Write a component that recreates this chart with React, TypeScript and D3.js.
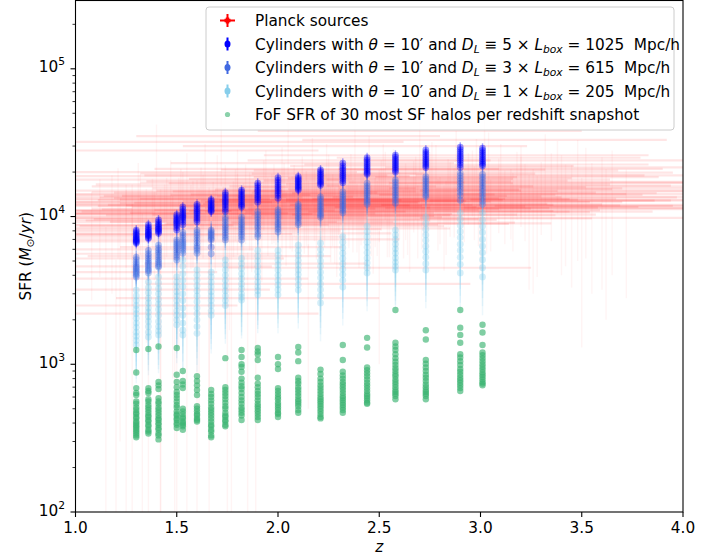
import React from 'react';
import * as d3 from 'd3';

// Redshift snapshots
const snapshotZ = [1.30, 1.36, 1.41, 1.50, 1.53, 1.60, 1.67, 1.74, 1.82, 1.90, 2.00, 2.10, 2.21, 2.32, 2.44, 2.58, 2.73, 2.90, 3.01];

// Cylinders D_L = 5 Lbox (1025 Mpc/h)
const cyl1025SFR: number[][] = [
  [8100, 7900, 7700, 7500, 7400, 7200, 7100, 7000, 6900, 6800, 6700, 6600],
  [8800, 8500, 8300, 8100, 7900, 7800, 7600, 7500, 7400, 7200, 7100],
  [9500, 9200, 8900, 8700, 8500, 8300, 8200, 8000, 7900, 7700],
  [10300, 10000, 9700, 9500, 9300, 9100, 8900, 8700, 8400, 8100],
  [11600, 11200, 10800, 10500, 10200, 10000, 9800, 9500, 9200, 8800],
  [12100, 11700, 11300, 11000, 10700, 10400, 10100, 9800, 9500, 9200],
  [13000, 12700, 12300, 12000, 11700, 11500, 11200, 11000, 10800],
  [14500, 14000, 13500, 13100, 12700, 12400, 12000, 11600, 11200, 10800],
  [15100, 14700, 14200, 13800, 13400, 13000, 12600, 12200, 11900, 11600],
  [16800, 16200, 15600, 15100, 14700, 14200, 13800, 13400, 13000, 12500],
  [18300, 17600, 17000, 16400, 15900, 15400, 14900, 14400, 13900, 13300],
  [18600, 18100, 17700, 17300, 16900, 16500, 16100, 15800, 15400, 15100],
  [20700, 20100, 19500, 19000, 18500, 18000, 17500, 17100, 16700, 16300],
  [23000, 22000, 21200, 20500, 19800, 19200, 18700, 18100, 17500, 16900],
  [25000, 24200, 23400, 22700, 22000, 21400, 20800, 20200, 19700, 19300],
  [26000, 25200, 24400, 23700, 23000, 22400, 21800, 21200, 20600, 20000],
  [28200, 27200, 26300, 25500, 24700, 24000, 23300, 22700, 22100, 21500],
  [29500, 28400, 27400, 26500, 25600, 24800, 24000, 23200, 22400, 21500],
  [29000, 28000, 27100, 26200, 25400, 24600, 23900, 23200, 22600, 22000],
];

// Cylinders D_L = 3 Lbox (615 Mpc/h)
const cyl615SFR: number[][] = [
  [5300, 5100, 4900, 4750, 4600, 4500, 4400, 4300, 4200, 4100, 4000, 3900],
  [5900, 5600, 5400, 5200, 5000, 4850, 4700, 4550, 4400, 4300, 4150],
  [6400, 6100, 5900, 5700, 5500, 5300, 5100, 4950, 4800, 4650, 4550],
  [6950, 6700, 6500, 6300, 6100, 5900, 5700, 5500, 5300, 5080],
  [7800, 7500, 7200, 6900, 6700, 6500, 6300, 6100, 5900, 5650],
  [8100, 7800, 7500, 7200, 6900, 6600, 6300, 6100, 5900, 5650],
  [8100, 7900, 7700, 7500, 7300, 7100, 6950, 6200, 5600],
  [9900, 9500, 9100, 8700, 8400, 8100, 7800, 7500, 7200, 6950],
  [9900, 9500, 9100, 8800, 8500, 8200, 7900, 7600, 7300, 6950],
  [10800, 10300, 9900, 9500, 9100, 8700, 8400, 8000, 7600, 7300],
  [11100, 10700, 10300, 9900, 9500, 9100, 8800, 8500, 8200, 7850],
  [12100, 11700, 11300, 10900, 10500, 10100, 9800, 9500, 9100, 8800],
  [13600, 13100, 12600, 12100, 11700, 11300, 10900, 10500, 10200, 9900],
  [14700, 14100, 13600, 13100, 12600, 12200, 11800, 11400, 11000, 10600],
  [16800, 16100, 15500, 14900, 14400, 13900, 13400, 12900, 12500, 12100],
  [17700, 17000, 16300, 15700, 15100, 14500, 14000, 13500, 12900, 12300],
  [18600, 17900, 17300, 16700, 16100, 15500, 15000, 14500, 14000, 13600],
  [19700, 18900, 18100, 17400, 16700, 16000, 15300, 14600, 13900, 12900],
  [19300, 18500, 17700, 16900, 16200, 15500, 14800, 14100, 13400, 12700, 12100],
];

// Cylinders D_L = 1 Lbox (205 Mpc/h)
const cyl205SFR: number[][] = [
  [3180, 2900, 2700, 2500, 2350, 2200, 2050, 1900, 1780, 1650, 1550, 1450, 1350],
  [3600, 3300, 3050, 2800, 2600, 2400, 2250, 2100, 1950, 1800, 1650, 1530],
  [3900, 3550, 3250, 3000, 2750, 2550, 2350, 2150, 1950, 1800, 1680, 1580],
  [3900, 3600, 3350, 3100, 2900, 2700, 2500, 2300, 2150, 2000, 1850],
  [5080, 4600, 4100, 3700, 3350, 3000, 2700, 2400, 2150, 1900, 1700, 1580],
  [4350, 4000, 3700, 3400, 3150, 2900, 2650, 2400, 2200, 2000, 1800, 1620],
  [4200, 3900, 3600, 3350, 3100, 2900, 2700, 2500, 2300, 2150],
  [5080, 4700, 4350, 4000, 3700, 3400, 3150, 2900, 2700, 2500],
  [5200, 4800, 4450, 4100, 3800, 3500, 3250, 3000, 2850, 2720],
  [5900, 5400, 5000, 4600, 4250, 3900, 3600, 3350, 3150, 2950],
  [5900, 5450, 5050, 4700, 4350, 4000, 3700, 3450, 3200, 2950],
  [6400, 5900, 5450, 5050, 4700, 4350, 4050, 3750, 3450, 3180],
  [6600, 6000, 5500, 5000, 4600, 4200, 3850, 3500, 3200, 2900, 2600],
  [7300, 6700, 6150, 5650, 5200, 4800, 4400, 4050, 3700, 3330],
  [8600, 7900, 7300, 6700, 6200, 5700, 5250, 4850, 4500, 4150],
  [8100, 7500, 7000, 6500, 6050, 5650, 5250, 4900, 4600, 4350],
  [9900, 9000, 8200, 7500, 6900, 6300, 5800, 5300, 4800, 4350],
  [10600, 9600, 8700, 7900, 7200, 6500, 5900, 5300, 4750, 4150],
  [10600, 9500, 8600, 7800, 7000, 6300, 5700, 5100, 4500, 3900],
];

// FoF SFR of 30 most SF halos
const fofSFR: number[][] = [
  [1250, 880, 690, 640, 620, 560, 540, 510, 490, 470, 460, 440, 430, 410, 400, 390, 380, 370, 360, 350, 340, 330, 320],
  [1270, 690, 660, 640, 580, 560, 530, 510, 490, 470, 450, 440, 420, 410, 390, 380, 360, 350, 340],
  [1320, 760, 720, 680, 590, 560, 540, 510, 490, 470, 450, 430, 420, 400, 390, 370, 360, 340, 330, 310],
  [1290, 850, 760, 700, 650, 620, 590, 560, 530, 510, 480, 460, 450, 430, 420, 400, 390, 370],
  [900, 770, 730, 690, 500, 480, 460, 440, 430, 410, 400, 390, 380, 360],
  [830, 770, 720, 670, 620, 520, 500, 480, 460, 450, 430, 420, 410],
  [670, 630, 600, 570, 540, 510, 490, 470, 450, 430, 410, 390, 380, 360, 350, 330, 320],
  [1100, 700, 670, 640, 610, 580, 550, 520, 500, 470, 450, 440, 420, 410, 390, 380],
  [1250, 1120, 1000, 960, 890, 800, 750, 710, 680, 640, 600, 570, 540, 510, 490, 470, 450, 420],
  [1290, 1220, 1170, 1070, 810, 740, 700, 660, 630, 600, 570, 540, 520, 500, 480, 460, 440, 420],
  [1120, 1000, 930, 690, 660, 630, 600, 580, 550, 530, 510, 490, 470, 460, 440],
  [1310, 1200, 1050, 810, 770, 740, 700, 670, 640, 610, 580, 560, 540, 520, 490, 470],
  [920, 860, 800, 760, 720, 690, 660, 630, 600, 580, 560, 540, 520, 500, 480, 460, 440, 430],
  [1350, 1070, 890, 840, 800, 760, 730, 700, 670, 640, 610, 590, 570, 550, 530, 510, 490, 470],
  [1510, 1300, 950, 910, 870, 830, 790, 750, 720, 690, 660, 630, 610, 590, 570, 550, 540],
  [2330, 1400, 1320, 1250, 1170, 1100, 1040, 990, 940, 900, 860, 830, 790, 760, 730, 700, 670, 650, 630, 610, 580],
  [1700, 1470, 1070, 1010, 950, 900, 850, 810, 770, 730, 700, 670, 650, 630, 610, 580],
  [2330, 1770, 1580, 1400, 1170, 1110, 1050, 990, 930, 890, 850, 810, 780, 750, 720, 690, 660],
  [1850, 1640, 1350, 1200, 1150, 1100, 1050, 1000, 960, 920, 880, 850, 820, 790, 760, 740, 720],
];

// Planck sources (z, z error, SFR, SFR error)
const planckZ = [1.15, 1.22, 1.28, 1.33, 1.38, 1.42, 1.47, 1.51, 1.55, 1.58, 1.62, 1.66, 1.70, 1.73, 1.77, 1.80, 1.84, 1.87, 1.91, 1.94, 1.97, 2.00, 2.03, 2.06, 2.09, 2.12, 2.15, 2.18, 2.21, 2.24, 2.27, 2.30, 2.33, 2.36, 2.39, 2.42, 2.45, 2.48, 2.51, 2.54, 2.57, 2.60, 2.64, 2.68, 2.72, 2.76, 2.80, 2.84, 2.88, 2.92, 2.96, 3.00, 3.05, 3.10, 3.15, 3.20, 3.26, 3.32, 3.40, 3.48, 3.55, 3.65,
  1.18, 1.25, 1.31, 1.36, 1.44, 1.49, 1.53, 1.60, 1.64, 1.68, 1.75, 1.79, 1.83, 1.89, 1.93, 1.99, 2.04, 2.08, 2.13, 2.17, 2.22, 2.26, 2.31, 2.35, 2.40, 2.44, 2.49, 2.53, 2.58, 2.62, 2.67, 2.71, 2.78, 2.83, 2.87, 2.94, 2.99, 3.04, 3.12, 3.18, 3.24, 3.30, 3.38, 3.45, 3.52, 3.60, 3.72,
  1.40, 1.72, 2.05, 2.38, 2.70, 3.02, 1.20, 1.50, 1.85, 2.15, 2.50,
  1.25, 1.32, 1.39, 1.45, 1.52, 1.57, 1.63, 1.69, 1.74, 1.78, 1.82, 1.86, 1.90, 1.95, 1.98, 2.02, 2.07, 2.11, 2.14, 2.19, 2.23, 2.28, 2.32, 2.37, 2.41, 2.46, 2.50, 2.55, 2.59, 2.63, 2.69, 2.74, 2.79, 2.85, 2.90, 2.97, 3.03, 3.09, 3.16, 3.22, 3.28, 3.35, 3.42,
  1.35, 1.48, 1.61, 1.76, 1.92, 2.10, 2.29, 2.47, 2.65, 2.82, 3.00,
  1.55, 1.80, 2.02, 2.25, 2.52, 2.75, 2.98, 3.20, 3.50, 3.62, 1.28, 1.42, 1.66, 1.21, 1.12, 1.08];
const planckZErr = [0.55, 0.60, 0.45, 0.70, 0.50, 0.65, 0.55, 0.80, 0.60, 0.70, 0.50, 0.85, 0.60, 0.75, 0.55, 0.90, 0.65, 0.70, 0.80, 0.60, 0.75, 0.85, 0.65, 0.90, 0.70, 0.80, 0.60, 0.95, 0.70, 0.85, 0.65, 0.90, 0.75, 0.80, 0.70, 0.95, 0.60, 0.85, 0.75, 0.90, 0.70, 0.80, 0.95, 0.75, 0.85, 0.70, 0.90, 0.80, 0.95, 0.75, 0.85, 0.70, 0.90, 0.80, 0.65, 0.85, 0.75, 0.90, 0.70, 0.80, 0.60, 0.75,
  0.70, 0.50, 0.85, 0.60, 0.75, 0.50, 0.90, 0.65, 0.75, 0.55, 0.85, 0.65, 0.80, 0.55, 0.85, 0.70, 0.95, 0.60, 0.85, 0.70, 0.90, 0.60, 0.85, 0.70, 0.95, 0.75, 0.85, 0.65, 0.90, 0.75, 0.85, 0.65, 0.90, 0.75, 0.85, 0.70, 0.95, 0.75, 0.85, 0.70, 0.90, 0.75, 0.85, 0.70, 0.80, 0.70, 0.65,
  0.80, 0.90, 0.75, 0.85, 0.80, 0.90, 0.60, 0.70, 0.65, 0.80, 0.75,
  0.80, 0.65, 0.90, 0.70, 0.85, 0.60, 0.95, 0.75, 0.85, 0.70, 0.95, 0.75, 0.85, 0.70, 0.90, 0.75, 0.85, 0.70, 0.95, 0.80, 0.70, 0.90, 0.75, 0.85, 0.70, 0.90, 0.80, 0.70, 0.95, 0.75, 0.85, 0.70, 0.90, 0.80, 0.70, 0.90, 0.75, 0.85, 0.70, 0.90, 0.75, 0.80, 0.70,
  0.75, 0.85, 0.70, 0.80, 0.90, 0.75, 0.85, 0.70, 0.90, 0.75, 0.85,
  0.75, 0.85, 0.70, 0.90, 0.80, 0.70, 0.85, 0.75, 0.80, 0.70, 0.60, 0.55, 0.60, 0.75, 0.65, 0.70];
const planckSFR = [4200, 6800, 9500, 5200, 12000, 7600, 15000, 9800, 3800, 11000, 13500, 8200, 16500, 10500, 6200, 12500, 14500, 9200, 11800, 19000, 13000, 10200, 15500, 12000, 8800, 17000, 11500, 13800, 10000, 21000, 12800, 15000, 9500, 18000, 11200, 14000, 24000, 12200, 16000, 10800, 19500, 13500, 11000, 17500, 14500, 22000, 12500, 16500, 26000, 13200, 19000, 15500, 11800, 21000, 14000, 17000, 12000, 24000, 15000, 19000, 13000, 16000,
  11000, 7500, 14000, 3200, 10500, 5600, 13000, 8800, 20000, 11200, 7000, 13800, 10800, 4800, 16000, 12400, 9600, 14800, 11600, 23000, 13200, 10400, 16800, 12600, 9000, 15200, 11400, 18500, 13000, 10200, 15800, 12000, 20500, 11500, 14200, 17800, 12800, 25000, 13500, 18500, 11200, 15500, 21500, 12800, 17200, 14200, 11800,
  28000, 32000, 35000, 30000, 38000, 33000, 2500, 2200, 2800, 3500, 4500,
  10500, 12500, 9200, 11800, 13600, 10400, 12200, 9800, 14200, 11300, 10100, 12900, 9400, 11900, 14600, 10600, 12300, 9900, 13300, 11100, 12700, 10300, 14100, 11700, 12900, 10900, 13700, 11300, 12500, 14900, 10700, 13100, 11900, 15300, 12100, 14400, 11600, 16200, 12800, 14800, 11400, 16800, 13600,
  8400, 7300, 8000, 7700, 8600, 8300, 8900, 9100, 9700, 10300, 10800,
  17800, 18800, 19500, 17300, 20800, 18200, 22500, 19800, 9800, 11500, 6000, 4600, 5400, 13200, 10900, 8700];
const planckSFRErr = [4300, 6500, 7000, 5300, 6000, 7700, 9000, 8500, 3900, 6500, 8000, 7500, 9500, 5500, 6300, 7000, 8000, 5000, 6000, 9000, 6500, 5500, 7500, 6000, 4800, 8500, 6000, 7000, 5000, 10000, 6500, 7500, 5000, 8500, 5500, 7000, 11000, 6000, 8000, 5500, 9000, 6500, 5500, 8000, 7000, 10000, 6000, 8000, 12000, 6500, 9000, 7500, 6000, 10000, 7000, 8500, 9000, 12000, 11000, 14000, 10000, 12000,
  8000, 7600, 9000, 3300, 6000, 5700, 7000, 8900, 11000, 6000, 7100, 7000, 6000, 4900, 8000, 6000, 5000, 7500, 6000, 11000, 6500, 5500, 8000, 6500, 4500, 7500, 6000, 9000, 6500, 5000, 8000, 6000, 10000, 6000, 7000, 9000, 6500, 12000, 7000, 9000, 8000, 8000, 11000, 9500, 12000, 11000, 9000,
  14000, 16000, 18000, 15000, 18000, 16000, 2600, 2300, 2900, 3000, 3500,
  6000, 7000, 5500, 6500, 7500, 6000, 7000, 5500, 8000, 6000, 5500, 7000, 5000, 6500, 8000, 5500, 6500, 5000, 7000, 6000, 6500, 5500, 7500, 6000, 6500, 5500, 7000, 6000, 6500, 8000, 5500, 7000, 6000, 8000, 6500, 7500, 6000, 8500, 7000, 8000, 7500, 10000, 9000,
  7000, 6500, 7500, 6000, 5000, 4500, 5000, 5000, 5500, 6000, 6500,
  9000, 9500, 10000, 9000, 10000, 9000, 11000, 10000, 8500, 9500, 6100, 4700, 5500, 8000, 7000, 6000];

const xTicks = [1.0, 1.5, 2.0, 2.5, 3.0, 3.5, 4.0];
const yTickExps = [2, 3, 4, 5];

const FONT = '"DejaVu Sans", sans-serif';
const FS = 15.3;

export default function App() {
  const left = 75.5, right = 683, top = 0.5, bottom = 512;
  const x = d3.scaleLinear().domain([1, 4]).range([left, right]);
  const y = d3.scaleLog().domain([100, 2.9e5]).range([bottom, top]);
  const ySafe = (v: number) => (v <= 0 ? bottom + 50 : y(v));

  const series = [
    { data: cyl1025SFR, color: 'blue', err: 0.08, alpha: 0.38, lineAlpha: 0.35 },
    { data: cyl615SFR, color: 'royalblue', err: 0.15, alpha: 0.36, lineAlpha: 0.25 },
    { data: cyl205SFR, color: 'skyblue', err: 0.45, alpha: 0.35, lineAlpha: 0.16 },
  ];

  const minorTicks: number[] = [];
  for (let e = 2; e <= 5; e++) {
    for (let m = 2; m <= 9; m++) {
      const v = m * Math.pow(10, e);
      if (v < 2.9e5) minorTicks.push(v);
    }
  }

  const nP = Math.min(planckZ.length, planckZErr.length, planckSFR.length, planckSFRErr.length);

  const legendRows = [20.5, 44, 67.5, 91, 114.5];
  const legendX = 227.5;
  const textX = 255;

  const cylLabel = (n: string, d: string, yy: number) => (
    <text x={textX} y={yy} fontSize={FS} fontFamily={FONT} style={{ whiteSpace: 'pre' }} fill="#000">
      <tspan>Cylinders with </tspan>
      <tspan fontStyle="italic">θ</tspan>
      <tspan> = 10′ and </tspan>
      <tspan fontStyle="italic">D</tspan>
      <tspan fontStyle="italic" fontSize={FS * 0.7} dy={3}>L</tspan>
      <tspan dy={-3}> ≡ {n} × </tspan>
      <tspan fontStyle="italic">L</tspan>
      <tspan fontStyle="italic" fontSize={FS * 0.7} dy={3}>box</tspan>
      <tspan dy={-3}> = {d}  Mpc/h</tspan>
    </text>
  );

  return (
    <svg width={722} height={559} style={{ position: 'absolute', left: 0, top: 0, background: '#fff' }}>
      <defs>
        <clipPath id="plotclip">
          <rect x={left} y={top} width={right - left} height={bottom - top} />
        </clipPath>
      </defs>
      <rect x={0} y={0} width={722} height={559} fill="#fff" />
      <g clipPath="url(#plotclip)">
        {/* Planck sources: horizontal (z) error bars */}
        <g stroke="red" strokeWidth={2.2} strokeOpacity={0.1}>
          {d3.range(nP).map((i) => (
            <line key={'ph' + i} x1={x(planckZ[i] - planckZErr[i])} x2={x(planckZ[i] + planckZErr[i])} y1={y(planckSFR[i])} y2={y(planckSFR[i])} />
          ))}
        </g>
        {/* Planck sources: vertical (SFR) error bars */}
        <g stroke="red" strokeWidth={1.5} strokeOpacity={0.045}>
          {d3.range(nP).map((i) => (
            <line key={'pv' + i} x1={x(planckZ[i])} x2={x(planckZ[i])} y1={ySafe(planckSFR[i] - planckSFRErr[i])} y2={y(planckSFR[i] + planckSFRErr[i])} />
          ))}
        </g>
        {/* Cylinders */}
        {series.map((s, si) => (
          <g key={'s' + si}>
            {snapshotZ.map((z, i) =>
              (s.data[i] || []).map((v, j) => (
                <g key={`${si}-${i}-${j}`}>
                  <line x1={x(z)} x2={x(z)} y1={y(v * (1 - s.err))} y2={y(v * (1 + s.err))} stroke={s.color} strokeWidth={1.4} strokeOpacity={s.lineAlpha} />
                  <circle cx={x(z)} cy={y(v)} r={3.4} fill={s.color} fillOpacity={s.alpha} />
                </g>
              ))
            )}
          </g>
        ))}
        {/* FoF */}
        <g>
          {snapshotZ.map((z, i) =>
            (fofSFR[i] || []).map((v, j) => (
              <circle key={`f-${i}-${j}`} cx={x(z)} cy={y(v)} r={3.2} fill="mediumseagreen" fillOpacity={0.65} />
            ))
          )}
        </g>
      </g>

      {/* Axes spines */}
      <rect x={left} y={top} width={right - left} height={bottom - top} fill="none" stroke="#000" strokeWidth={1.1} />

      {/* X ticks */}
      {xTicks.map((t) => (
        <g key={'xt' + t}>
          <line x1={x(t)} x2={x(t)} y1={bottom} y2={bottom + 5} stroke="#000" strokeWidth={1.1} />
          <text x={x(t)} y={533} textAnchor="middle" fontSize={FS} fontFamily={FONT} fill="#000">
            {t.toFixed(1)}
          </text>
        </g>
      ))}
      {/* Y ticks */}
      {yTickExps.map((e) => {
        const ty = y(Math.pow(10, e));
        return (
          <g key={'yt' + e}>
            <line x1={left - 5} x2={left} y1={ty} y2={ty} stroke="#000" strokeWidth={1.1} />
            <text x={65} y={ty + 3.5} textAnchor="end" fontSize={FS} fontFamily={FONT} fill="#000">
              <tspan>10</tspan>
              <tspan fontSize={FS * 0.7} dy={-7}>{e}</tspan>
            </text>
          </g>
        );
      })}
      {minorTicks.map((v) => (
        <line key={'ym' + v} x1={left - 3} x2={left} y1={y(v)} y2={y(v)} stroke="#000" strokeWidth={0.8} />
      ))}

      {/* Axis labels */}
      <text x={(left + right) / 2} y={552} textAnchor="middle" fontSize={FS} fontFamily={FONT} fontStyle="italic" fill="#000">z</text>
      <text transform={`translate(31, ${(top + bottom) / 2}) rotate(-90)`} textAnchor="middle" fontSize={FS} fontFamily={FONT} fill="#000">
        <tspan>SFR (</tspan>
        <tspan fontStyle="italic">M</tspan>
        <tspan fontSize={FS * 0.7} dy={3}>⊙</tspan>
        <tspan dy={-3}>/</tspan>
        <tspan fontStyle="italic">yr</tspan>
        <tspan>)</tspan>
      </text>

      {/* Legend */}
      <rect x={206} y={7} width={468} height={123} rx={3} fill="#fff" fillOpacity={0.8} stroke="#cccccc" strokeWidth={1} />
      <g>
        <line x1={legendX - 7.5} x2={legendX + 7.5} y1={legendRows[0]} y2={legendRows[0]} stroke="red" strokeWidth={2} />
        <line x1={legendX} x2={legendX} y1={legendRows[0] - 6.5} y2={legendRows[0] + 6.5} stroke="red" strokeWidth={2} />
        <line x1={legendX - 3} x2={legendX + 3} y1={legendRows[0]} y2={legendRows[0]} stroke="red" strokeWidth={3.5} />
        <line x1={legendX} x2={legendX} y1={legendRows[0] - 3} y2={legendRows[0] + 3} stroke="red" strokeWidth={3.5} />
        <text x={textX} y={legendRows[0] + 5.5} fontSize={FS} fontFamily={FONT} fill="#000">Planck sources</text>
      </g>
      {series.map((s, si) => (
        <g key={'lg' + si}>
          <line x1={legendX} x2={legendX} y1={legendRows[si + 1] - 6.5} y2={legendRows[si + 1] + 6.5} stroke={s.color} strokeWidth={2} />
          <ellipse cx={legendX} cy={legendRows[si + 1]} rx={3} ry={3.5} fill={s.color} />
        </g>
      ))}
      {cylLabel('5', '1025', legendRows[1] + 5.5)}
      {cylLabel('3', '615', legendRows[2] + 5.5)}
      {cylLabel('1', '205', legendRows[3] + 5.5)}
      <circle cx={legendX} cy={legendRows[4]} r={2.6} fill="mediumseagreen" fillOpacity={0.6} />
      <text x={textX} y={legendRows[4] + 5.5} fontSize={FS} fontFamily={FONT} fill="#000">FoF SFR of 30 most SF halos per redshift snapshot</text>
    </svg>
  );
}
